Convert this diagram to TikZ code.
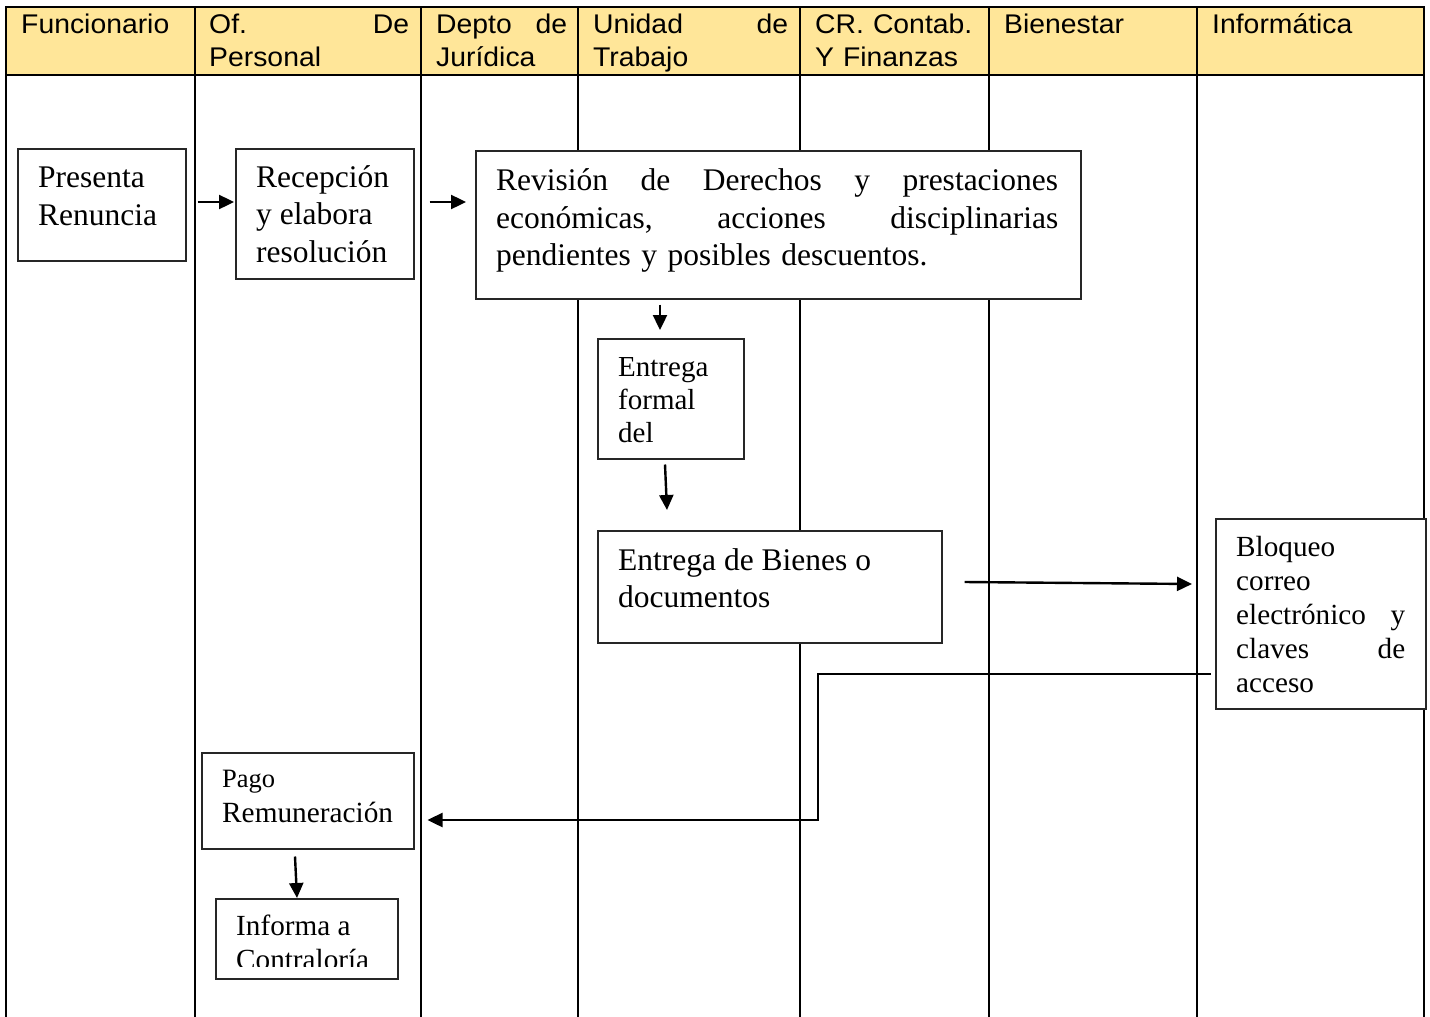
\documentclass[tikz,border=0pt]{standalone}
\usepackage{fontspec}
\setmainfont{Liberation Serif}
\newfontfamily\hdrfont[FakeStretch=1.05]{Liberation Sans}
\usetikzlibrary{arrows.meta,calc}
\definecolor{hdrfill}{HTML}{FFE699}
\newcommand\hstrut{\rule{0pt}{24pt}}
\tikzset{
  lane/.style={line width=2.2pt, draw=black},
  hdr/.style={anchor=north west, inner sep=0pt, align=left,
    font=\hdrfont\fontsize{27}{33}\selectfont},
  box/.style={draw=black!85, line width=1.5pt, fill=white, anchor=north west, inner sep=0pt},
  txt/.style={anchor=north west, inner sep=0pt, align=left},
  bigtxt/.style={txt, font=\fontsize{31.5}{37.5}\selectfont},
  smalltxt/.style={txt, font=\fontsize{29.2}{33.5}\selectfont},
  arr/.style={draw=black, line width=2.4pt, -{Triangle[length=15pt,width=14pt]}}
}
\begin{document}
\begin{tikzpicture}[x=1pt,y=-1pt]
\useasboundingbox (0,0) rectangle (1430,1017);
\fill[white] (0,0) rectangle (1430,1017);
% header band and lanes
\draw[lane, fill=hdrfill] (6,7) rectangle (1424,75);
\foreach \x in {6,195,421,578,800,989,1197,1424} \draw[lane] (\x,7) -- (\x,1017);
% header texts
\node[hdr, text width=165pt] (h1) at (21,9.5) {\hstrut Funcionario};
\node[hdr, text width=200pt] (h2) at (209,9.5) {\hstrut Of.\hfill De\\Personal};
\node[hdr, text width=131pt] (h3) at (436,9.5) {\hstrut Depto\hfill de\\Jurídica};
\node[hdr, text width=195pt] (h4) at (593,9.5) {\hstrut Unidad\hfill de\\Trabajo};
\node[hdr, text width=170pt] (h5) at (815,9.5) {\hstrut CR. Contab.\\Y Finanzas};
\node[hdr, text width=180pt] (h6) at (1004,9.5) {\hstrut Bienestar};
\node[hdr, text width=200pt] (h7) at (1212,9.5) {\hstrut Informática};
% boxes
\node[box, minimum width=168pt, minimum height=112pt] (pres) at (17,148) {};
\node[box, minimum width=178pt, minimum height=130pt] (rec) at (235,148) {};
\node[box, minimum width=605pt, minimum height=148pt] (rev) at (475,150) {};
\node[box, minimum width=146pt, minimum height=120pt] (ent) at (597,338) {};
\node[box, minimum width=344pt, minimum height=112pt] (bien) at (597,530) {};
\node[box, minimum width=210pt, minimum height=190pt] (blq) at (1215,518) {};
\node[box, minimum width=212pt, minimum height=96pt] (pago) at (201,752) {};
\node[box, minimum width=182pt, minimum height=80pt] (inf) at (215,898) {};
% box texts
\node[bigtxt, font=\fontsize{31.5}{38.5}\selectfont] (presT) at (38,163) {\hstrut Presenta\\Renuncia};
\node[bigtxt, font=\fontsize{31.5}{37.5}\selectfont] (recT) at (256,163) {\hstrut Recepción\\y elabora\\resolución};
\node[bigtxt, text width=562pt] (revT) at (496,166.5) {\hstrut Revisión\hfill de\hfill Derechos\hfill y\hfill prestaciones\\económicas,\hfill acciones\hfill disciplinarias\\pendientes y posibles descuentos.};
\node[smalltxt, font=\fontsize{29}{33}\selectfont] (entT) at (618,352) {\hstrut Entrega\\formal\\del};
\node[bigtxt] (bienT) at (618,546) {\hstrut Entrega de Bienes o\\documentos};
\node[smalltxt, text width=169pt, font=\fontsize{29.2}{34}\selectfont] (blqT) at (1236,532.7) {\hstrut Bloqueo\\correo\\electrónico\hfill y\\claves\hfill de\\acceso};
\node[smalltxt, font=\fontsize{29.3}{35}\selectfont] (pagoT) at (222,763.5) {\hstrut{\fontsize{26.5}{35}\selectfont Pago}\\Remuneración};
\begin{scope}
\clip (215,898) rectangle (397,966.5);
\node[smalltxt] (infT) at (236,911.5) {\hstrut Informa a\\Contraloría};
\end{scope}
% connectors
\draw[arr] ($(pres.north east)+(11,54)$) -- ($(rec.north west)+(-1,54)$);
\draw[arr] ($(rec.north east)+(15,54)$) -- ($(rev.north west)+(-9,52)$);
\draw[arr] ($(rev.south west)+(185,5)$) -- ($(ent.north west)+(63,-8)$);
\draw[arr] ($(ent.south west)+(68,5)$) -- ($(bien.north west)+(70,-20)$);
\draw[arr] ($(bien.north east)+(22,52)$) -- ($(blq.north west)+(-23,66)$);
\coordinate (b1) at (818,674);
\coordinate (b2) at (818,820);
\draw[arr] ($(blq.north west)+(-4,156)$) -- (b1) -- (b2) -- ($(pago.north east)+(13,68)$);
\draw[arr] ($(pago.south west)+(94,7)$) -- ($(inf.north west)+(82,0)$);
\end{tikzpicture}
\end{document}
